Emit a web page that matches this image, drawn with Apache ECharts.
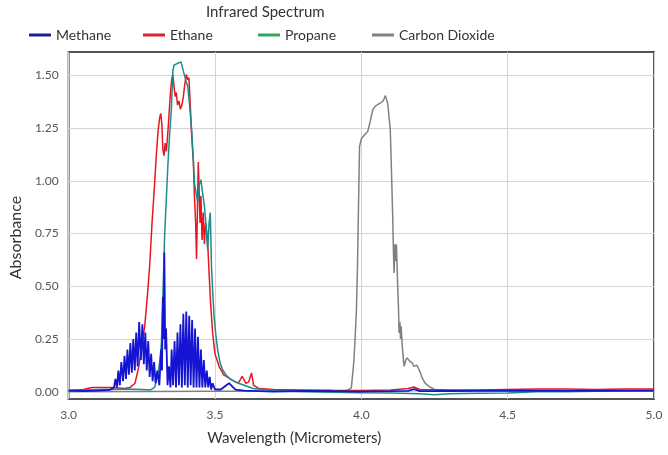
<!DOCTYPE html>
<html>
<head>
<meta charset="utf-8">
<script src="https://cdn.jsdelivr.net/npm/echarts@6/dist/echarts.min.js"></script>
<style>html,body{margin:0;padding:0;background:#fff}#c{width:668px;height:455px}</style>
</head>
<body>
<div id="c"></div>
<script>
const seriesNames = ["Methane", "Ethane", "Propane", "Carbon Dioxide"];
const xTicks = [3.0, 3.5, 4.0, 4.5, 5.0];
const yTicks = [0, 0.25, 0.5, 0.75, 1.0, 1.25, 1.5];

const methaneX = [3.00,3.05,3.10,3.14,3.155,3.160,3.165,3.170,3.175,3.180,3.186,3.191,3.196,3.201,3.206,3.211,3.216,3.221,3.226,3.231,3.236,3.241,3.247,3.252,3.257,3.262,3.267,3.272,3.277,3.282,3.287,3.292,3.297,3.303,3.310,3.316,3.319,3.322,3.325,3.327,3.330,3.333,3.338,3.343,3.348,3.352,3.357,3.362,3.367,3.372,3.377,3.382,3.387,3.392,3.397,3.402,3.407,3.412,3.417,3.422,3.427,3.432,3.437,3.442,3.447,3.452,3.457,3.462,3.467,3.472,3.477,3.482,3.487,3.492,3.50,3.52,3.548,3.57,3.60,3.7,3.8,3.9,4.0,4.1,4.16,4.18,4.2,4.3,4.5,4.7,5.0];
const methaneY = [0.005,0.003,0.005,0.008,0.02,0.06,0.02,0.10,0.03,0.14,0.05,0.17,0.06,0.20,0.08,0.23,0.09,0.25,0.10,0.28,0.12,0.33,0.15,0.32,0.13,0.28,0.10,0.24,0.07,0.18,0.05,0.14,0.04,0.10,0.03,0.20,0.10,0.45,0.25,0.66,0.20,0.30,0.03,0.12,0.02,0.20,0.03,0.24,0.02,0.28,0.03,0.32,0.02,0.37,0.03,0.38,0.02,0.36,0.03,0.34,0.02,0.30,0.02,0.26,0.02,0.20,0.02,0.15,0.02,0.10,0.02,0.07,0.01,0.04,0.01,0.01,0.04,0.01,0.005,0.0,0.003,0.002,0.0,0.002,0.004,0.012,0.002,0.003,0.005,0.004,0.005];

const ethaneX = [3.00,3.05,3.08,3.15,3.19,3.21,3.227,3.24,3.25,3.26,3.27,3.277,3.285,3.294,3.300,3.306,3.311,3.315,3.319,3.322,3.326,3.330,3.334,3.340,3.347,3.352,3.356,3.360,3.364,3.368,3.372,3.377,3.382,3.387,3.392,3.397,3.402,3.407,3.411,3.416,3.421,3.426,3.430,3.434,3.437,3.440,3.443,3.446,3.449,3.452,3.456,3.460,3.464,3.468,3.472,3.476,3.480,3.485,3.492,3.50,3.514,3.53,3.565,3.58,3.593,3.605,3.615,3.625,3.632,3.65,3.7,3.8,3.9,4.0,4.1,4.16,4.18,4.2,4.3,4.4,4.5,4.6,4.7,4.8,4.9,5.0];
const ethaneY = [0.005,0.01,0.02,0.02,0.015,0.02,0.04,0.12,0.22,0.31,0.47,0.60,0.80,0.99,1.13,1.24,1.30,1.32,1.26,1.15,1.12,1.18,1.14,1.25,1.40,1.48,1.505,1.45,1.40,1.42,1.36,1.38,1.34,1.36,1.40,1.46,1.505,1.48,1.49,1.35,1.20,1.10,0.92,0.80,0.63,0.85,1.09,0.95,0.80,0.93,0.72,0.85,0.70,0.80,0.76,0.68,0.56,0.42,0.28,0.18,0.12,0.08,0.05,0.04,0.073,0.04,0.045,0.089,0.03,0.015,0.01,0.008,0.006,0.005,0.008,0.015,0.022,0.01,0.008,0.008,0.01,0.012,0.012,0.01,0.012,0.012];

const propaneX = [3.00,3.05,3.10,3.15,3.20,3.25,3.28,3.294,3.305,3.312,3.317,3.322,3.328,3.334,3.339,3.345,3.351,3.356,3.360,3.366,3.375,3.384,3.390,3.396,3.402,3.407,3.414,3.421,3.426,3.430,3.436,3.441,3.446,3.452,3.457,3.464,3.470,3.475,3.480,3.484,3.488,3.492,3.497,3.503,3.509,3.517,3.526,3.54,3.554,3.58,3.60,3.63,3.7,3.8,3.9,4.0,4.1,4.2,4.25,4.3,4.4,4.5,4.6,4.7,4.8,4.9,5.0];
const propaneY = [0.005,0.008,0.01,0.01,0.012,0.01,0.008,0.02,0.08,0.15,0.23,0.45,0.74,0.92,1.07,1.22,1.34,1.52,1.55,1.555,1.56,1.565,1.56,1.50,1.47,1.45,1.35,1.23,1.10,0.99,0.94,0.90,0.98,1.006,0.95,0.88,0.78,0.674,0.80,0.85,0.595,0.48,0.357,0.27,0.20,0.14,0.104,0.075,0.057,0.04,0.03,0.015,0.005,0.0,-0.003,-0.005,-0.006,-0.01,-0.015,-0.01,-0.008,-0.006,0.0,0.0,0.002,0.003,0.003];

const co2X = [3.0,3.5,3.9,3.95,3.966,3.975,3.983,3.987,3.990,3.994,4.000,4.005,4.015,4.022,4.030,4.039,4.048,4.056,4.065,4.073,4.078,4.082,4.086,4.090,4.095,4.099,4.103,4.107,4.110,4.112,4.115,4.118,4.120,4.124,4.127,4.129,4.132,4.134,4.136,4.140,4.146,4.152,4.157,4.165,4.170,4.174,4.180,4.185,4.190,4.196,4.202,4.208,4.218,4.231,4.25,4.3,4.5,5.0];
const co2Y = [0.0,0.002,0.003,0.005,0.018,0.15,0.373,0.6,0.848,1.164,1.20,1.209,1.225,1.235,1.28,1.338,1.355,1.362,1.37,1.378,1.39,1.405,1.40,1.37,1.30,1.243,1.05,0.848,0.65,0.563,0.70,0.62,0.698,0.516,0.40,0.278,0.33,0.25,0.31,0.215,0.12,0.15,0.16,0.145,0.14,0.136,0.12,0.112,0.125,0.12,0.09,0.065,0.04,0.025,0.01,0.005,0.005,0.005];

const zip = (xs, ys) => xs.map((x, i) => [x, ys[i]]);

const lineColors = { "Methane": "#1414d2", "Ethane": "#e8161e", "Propane": "#1e8c8c", "Carbon Dioxide": "#808080" };
const legendColors = { "Methane": "#1a1f8f", "Ethane": "#d8262e", "Propane": "#2ca85a", "Carbon Dioxide": "#808080" };
const legendLefts = [29, 143, 258, 372];

const hFont = "Lato, sans-serif";

const chart = echarts.init(document.getElementById('c'), null, { renderer: 'canvas' });

const mkSeries = (name, data, z) => ({
  name, type: 'line', data, showSymbol: false, symbol: 'none', z,
  lineStyle: { color: lineColors[name], width: name === 'Methane' ? 1.8 : 1.5 },
  itemStyle: { color: lineColors[name] },
  animation: false
});

chart.setOption({
  animation: false,
  title: {
    text: 'Infrared Spectrum', left: 206, top: 5, padding: 0,
    textStyle: { fontFamily: hFont, fontSize: 15, fontWeight: 'normal', color: '#333' }
  },
  legend: seriesNames.map((n, i) => ({
    data: [{ name: n, itemStyle: { color: legendColors[n] } }],
    left: legendLefts[i], top: 28, padding: 0,
    icon: 'rect', itemWidth: 22, itemHeight: 3,
    textStyle: { fontFamily: hFont, fontSize: 14, color: '#333' },
    selectedMode: false
  })),
  grid: { left: 63, right: 14, top: 52, bottom: 56, show: true, borderColor: '#555', borderWidth: 2, containLabel: false },
  xAxis: {
    type: 'value', min: 3, max: 5, interval: 0.5,
    name: 'Wavelength (Micrometers)', nameLocation: 'middle', nameGap: 32,
    nameTextStyle: { fontFamily: hFont, fontSize: 15, color: '#333', padding: [0, 134, 0, 0] },
    axisLine: { show: false }, axisTick: { show: false },
    axisLabel: { formatter: v => v.toFixed(1), color: '#555', fontFamily: hFont, fontSize: 12, margin: 10 },
    splitLine: { show: true, lineStyle: { color: '#d4d4d4', width: 1 } }
  },
  yAxis: {
    type: 'value', min: -0.035, max: 1.612,
    name: 'Absorbance', nameLocation: 'middle', nameGap: 38,
    nameTextStyle: { fontFamily: hFont, fontSize: 16, color: '#333', padding: [0, 24, 0, 0] },
    axisLine: { show: false },
    axisTick: { show: false, customValues: yTicks },
    axisLabel: { customValues: yTicks, formatter: v => v.toFixed(2), color: '#555', fontFamily: hFont, fontSize: 12, margin: 10 },
    splitLine: { show: true, lineStyle: { color: '#d4d4d4', width: 1 } }
  },
  series: [
    mkSeries('Carbon Dioxide', zip(co2X, co2Y), 2),
    mkSeries('Ethane', zip(ethaneX, ethaneY), 3),
    mkSeries('Propane', zip(propaneX, propaneY), 4),
    mkSeries('Methane', zip(methaneX, methaneY), 5)
  ]
});
</script>
</body>
</html>
